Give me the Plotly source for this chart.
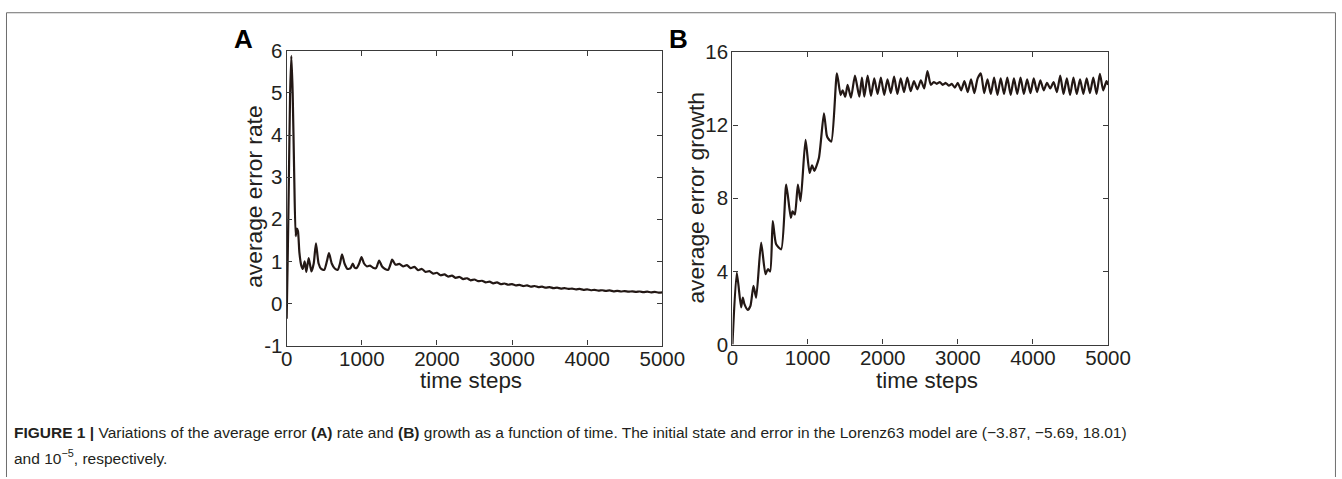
import plotly.graph_objects as go

# The photographed page appears to be scaled (about 0.977 x, 0.957 y) into the
# 1342x479 picture and the body keeps its 8px margin; reference pixel positions
# are mapped through that so the picture lines up with the reference.
OFF = 8
SX, SY, BY = 0.977, 0.957, 2.3
W, H = 1360, 488

# ---------------- data ----------------
tA = [0, 15, 30, 45, 62, 80, 100, 120, 135, 150, 170, 195, 215, 240, 262, 293, 330, 360, 390,
      425, 460, 500, 535, 563, 600, 640, 680, 710, 737, 770, 810, 850, 880, 905, 935, 965, 996,
      1030, 1070, 1110, 1150, 1190, 1231, 1270, 1310, 1351, 1380, 1404, 1420,
      1450, 1500, 1550, 1600, 1650, 1700, 1750, 1800, 1850, 1900, 1950, 2000, 2050, 2100, 2150,
      2200, 2250, 2300, 2350, 2400, 2450, 2500, 2550, 2600, 2650, 2700, 2750, 2800, 2850, 2900,
      2950, 3000, 3050, 3100, 3150, 3200, 3250, 3300, 3350, 3400, 3450, 3500, 3550, 3600, 3650,
      3700, 3750, 3800, 3850, 3900, 3950, 4000, 4050, 4100, 4150, 4200, 4250, 4300, 4350, 4400,
      4450, 4500, 4550, 4600, 4650, 4700, 4750, 4800, 4850, 4900, 4950, 5000]
rateA = [-0.36, 1.2, 3.0, 4.9, 5.88, 5.0, 3.1, 1.6, 1.78, 1.72, 1.2, 0.9, 0.82, 1.0, 0.75, 1.08,
         0.76, 0.95, 1.43, 0.95, 0.82, 0.80, 1.0, 1.2, 0.95, 0.83, 0.80, 0.95, 1.17, 0.95, 0.82,
         0.84, 0.95, 0.85, 0.85, 0.95, 1.1, 0.95, 0.88, 0.90, 0.85, 0.84, 1.02, 0.88, 0.82, 0.80,
         0.92, 1.04, 1.0,
         0.92, 0.94, 0.88, 0.91, 0.84, 0.87, 0.79, 0.82, 0.75, 0.77, 0.71, 0.73, 0.67, 0.69, 0.64,
         0.66, 0.61, 0.63, 0.58, 0.60, 0.55, 0.57, 0.53, 0.54, 0.50, 0.52, 0.48, 0.50, 0.46, 0.475,
         0.445, 0.46, 0.43, 0.44, 0.415, 0.43, 0.40, 0.415, 0.39, 0.40, 0.375, 0.39, 0.365, 0.375,
         0.355, 0.365, 0.345, 0.355, 0.335, 0.345, 0.325, 0.335, 0.315, 0.325, 0.305, 0.315, 0.30,
         0.31, 0.29, 0.30, 0.285, 0.295, 0.28, 0.29, 0.275, 0.285, 0.27, 0.28, 0.265, 0.275, 0.26,
         0.265]

tB = [0, 58, 116, 138, 160, 204, 240, 280, 316, 382, 440, 471, 502, 537, 582, 649, 716, 777,
      800, 831, 871, 907, 973, 1027, 1060, 1090, 1151, 1218, 1255, 1271, 1316, 1391, 1440, 1467,
      1502, 1533, 1578, 1631, 1689, 1724, 1755, 1800, 1844, 1888, 1932, 1976, 2020, 2064, 2108,
      2152, 2196, 2240, 2284, 2328, 2372, 2416, 2462, 2508, 2552, 2596, 2640, 2680, 2720, 2760,
      2800, 2840, 2880, 2920, 2960, 3000, 3044, 3088, 3132, 3176, 3220, 3264, 3307, 3351, 3395,
      3439, 3483, 3527, 3571, 3615, 3659, 3703, 3747, 3791, 3835, 3879, 3923, 3967, 4011, 4055,
      4099, 4143, 4187, 4231, 4275, 4319, 4363, 4407, 4451, 4495, 4539, 4583, 4627, 4671, 4715,
      4759, 4803, 4847, 4891, 4935, 4979, 5000]
growthB = [0.0, 3.93, 2.03, 2.57, 2.21, 1.89, 2.12, 3.21, 2.57, 5.57, 3.85, 4.12, 4.0, 6.75,
           5.48, 5.21, 8.75, 6.93, 7.29, 7.11, 8.75, 7.84, 11.19, 9.38, 9.8, 9.5, 10.2, 12.64,
           11.45, 11.28, 11.1, 14.82, 13.64, 13.9, 13.55, 14.2, 13.5, 14.7, 13.55, 14.6, 13.55,
           14.7, 13.6, 14.55, 13.7, 14.6, 13.65, 14.5, 13.75, 14.65, 13.7, 14.55, 13.8, 14.6,
           13.85, 14.4, 13.95, 14.45, 14.0, 14.95, 14.2, 14.35, 14.25, 14.35, 14.2, 14.3, 14.15,
           14.25, 14.05, 14.3, 13.9, 14.4, 13.8, 14.5, 13.75, 14.55, 14.82, 13.75, 14.5, 13.7,
           14.6, 13.65, 14.55, 13.7, 14.6, 13.65, 14.55, 13.7, 14.6, 13.7, 14.5, 13.75, 14.55,
           13.8, 14.45, 13.9, 14.3, 14.0, 14.35, 13.8, 14.7, 13.7, 14.55, 13.65, 14.6, 13.7, 14.5,
           13.7, 14.55, 13.75, 14.6, 13.7, 14.8, 13.9, 14.4, 14.2]

xticks = [0, 1000, 2000, 3000, 4000, 5000]
xticklabels = ["0", "1000", "2000", "3000", "4000", "5000"]
yticksA = [-1, 0, 1, 2, 3, 4, 5, 6]
yticklabelsA = ["-1", "0", "1", "2", "3", "4", "5", "6"]
yticksB = [0, 4, 8, 12, 16]
yticklabelsB = ["0", "4", "8", "12", "16"]

LINE = "#231815"
AX = "#3a3a3a"
TXT = "#231f20"
FONT = "Liberation Sans, Arial, sans-serif"
CAPFONT = "Liberation Sans Narrow, Arial Narrow, Liberation Sans, sans-serif"


def fx(r):
    return max(0.5, r / SX - OFF) / W


def fy(r):
    return 1 - ((r - BY) / SY - OFF) / H


fig = go.Figure()
fig.add_trace(go.Scatter(x=tA, y=rateA, mode="lines", xaxis="x", yaxis="y",
                         line=dict(color=LINE, width=2.2, shape="spline", smoothing=0.6),
                         showlegend=False, hoverinfo="skip"))
fig.add_trace(go.Scatter(x=tB, y=growthB, mode="lines", xaxis="x2", yaxis="y2",
                         line=dict(color=LINE, width=2.2, shape="spline", smoothing=0.6),
                         showlegend=False, hoverinfo="skip"))

axcommon = dict(showline=True, linecolor=AX, linewidth=1.3, mirror="ticks", ticks="inside",
                ticklen=5, tickcolor=AX, tickwidth=1.2, showgrid=False, zeroline=False,
                tickfont=dict(family=FONT, size=20.5, color=TXT), fixedrange=True)

fig.update_layout(
    width=W, height=H, margin=dict(l=0, r=0, t=0, b=0),
    paper_bgcolor="white", plot_bgcolor="white",
    xaxis=dict(domain=[fx(288), fx(663)], range=[0, 5000], anchor="y",
               tickvals=xticks, ticktext=xticklabels, ticklabelstandoff=-5, **axcommon),
    yaxis=dict(domain=[fy(345), fy(49)], range=[-1, 6], anchor="x",
               tickvals=yticksA, ticktext=yticklabelsA, ticklabelstandoff=-1, **axcommon),
    xaxis2=dict(domain=[fx(733), fx(1108)], range=[0, 5000], anchor="y2",
                tickvals=xticks, ticktext=xticklabels, ticklabelstandoff=-5, **axcommon),
    yaxis2=dict(domain=[fy(344), fy(50)], range=[0, 16], anchor="x2",
                tickvals=yticksB, ticktext=yticklabelsB, ticklabelstandoff=-1, **axcommon),
)

ann = []
ann.append(dict(text="average error rate", x=fx(256), y=fy(196), textangle=-90,
                font=dict(family=FONT, size=22.8, color=TXT)))
ann.append(dict(text="average error growth", x=fx(697), y=fy(196), textangle=-90,
                font=dict(family=FONT, size=22.8, color=TXT)))
ann.append(dict(text="time steps", x=fx(472), y=fy(380),
                font=dict(family=FONT, size=22.4, color=TXT)))
ann.append(dict(text="time steps", x=fx(927), y=fy(380),
                font=dict(family=FONT, size=22.4, color=TXT)))
ann.append(dict(text="<b>A</b>", x=fx(245), y=fy(37),
                font=dict(family=FONT, size=26, color="#000000")))
ann.append(dict(text="<b>B</b>", x=fx(679), y=fy(37),
                font=dict(family=FONT, size=26, color="#000000")))
cap1 = ("<b>FIGURE 1 |</b> Variations of the average error <b>(A)</b> rate and <b>(B)</b> growth "
        "as a function of time. The initial state and error in the Lorenz63 model are "
        "(−3.87, −5.69, 18.01)")
cap2 = "and 10<sup>−5</sup>, respectively."
ann.append(dict(text=cap1, x=fx(14), y=fy(432), xanchor="left",
                font=dict(family=CAPFONT, size=15.5, color=TXT)))
ann.append(dict(text=cap2, x=fx(14), y=fy(457), xanchor="left",
                font=dict(family=CAPFONT, size=15.5, color=TXT)))
for a in ann:
    a.setdefault("xanchor", "center")
    a.update(xref="paper", yref="paper", yanchor="middle", showarrow=False)
fig.update_layout(annotations=ann)

frame = dict(color="#6e6e6e", width=1)
fig.update_layout(shapes=[
    dict(type="line", xref="paper", yref="paper", x0=fx(7), x1=fx(1335), y0=fy(10.7), y1=fy(10.7), line=frame),
    dict(type="line", xref="paper", yref="paper", x0=fx(7), x1=fx(7), y0=fy(10.7), y1=0, line=frame),
    dict(type="line", xref="paper", yref="paper", x0=fx(1335), x1=fx(1335), y0=fy(10.7), y1=0, line=frame),
])

fig.write_html("out.html")
